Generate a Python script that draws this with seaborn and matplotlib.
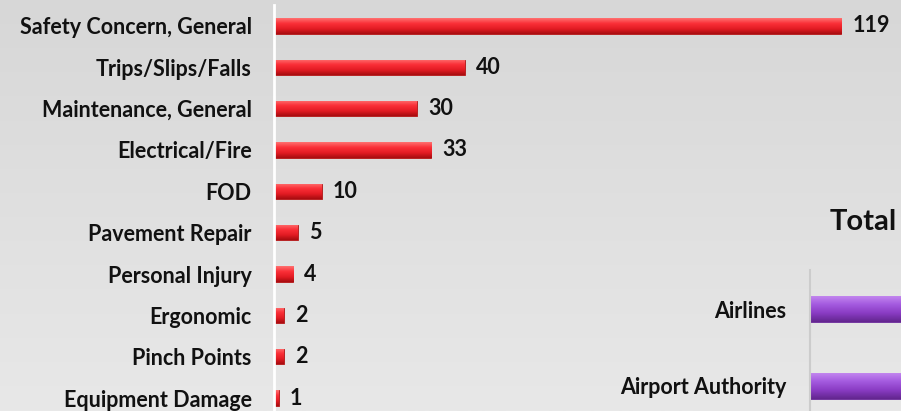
"""Hazard report categories, horizontal bars with a bevelled look."""

import matplotlib

matplotlib.use("Agg")
import matplotlib.pyplot as plt
import numpy as np
import pandas as pd
import seaborn as sns
from matplotlib.colors import LinearSegmentedColormap

categories = [
    "Safety Concern, General",
    "Trips/Slips/Falls",
    "Maintenance, General",
    "Electrical/Fire",
    "FOD",
    "Pavement Repair",
    "Personal Injury",
    "Ergonomic",
    "Pinch Points",
    "Equipment Damage",
]
counts = [119, 40, 30, 33, 10, 5, 4, 2, 2, 1]

# second chart, only partly visible in the crop
total_groups = ["Airlines", "Airport Authority"]
total_counts = [150, 140]

W, H = 901, 411


def px_box(left, top, right, bottom):
    return [left / W, 1 - bottom / H, (right - left) / W, (bottom - top) / H]


def shade_bars(ax, colors):
    cmap = LinearSegmentedColormap.from_list("bevel", colors)
    grad = np.linspace(0, 1, 64)[:, None]
    xlim, ylim = ax.get_xlim(), ax.get_ylim()
    for p in ax.patches:
        x0, y0 = p.get_x(), p.get_y()
        w, h = p.get_width(), p.get_height()
        if w <= 0:
            continue
        im = ax.imshow(grad, cmap=cmap, aspect="auto", origin="lower",
                       extent=(x0, x0 + w, y0, y0 + h), zorder=p.get_zorder() + 0.1)
        im.set_clip_path(p)
    ax.set_xlim(xlim)
    ax.set_ylim(ylim)


sns.set_theme(style="white")
plt.rcParams["font.family"] = ["Lato", "DejaVu Sans"]

fig = plt.figure(figsize=(W / 100, H / 100), dpi=100)

# grey gradient backdrop
bg = fig.add_axes([0, 0, 1, 1], zorder=0)
bg.imshow(np.linspace(0, 1, 256)[:, None], aspect="auto", extent=(0, 1, 0, 1),
          cmap=LinearSegmentedColormap.from_list("bg", ["#d7d7d7", "#e8e8e8"]))
bg.axis("off")

# main chart
ax = fig.add_axes(px_box(274, 5.3, 274 + 130 * 4.765, 418.7), zorder=1)
df = pd.DataFrame({"category": categories, "count": counts})
sns.barplot(data=df, x="count", y="category", orient="h", ax=ax, color="#e4202a",
            saturation=1, width=0.37, edgecolor="#b01515", linewidth=0.6)
ax.set_xlim(0, 130)
ax.set_ylim(9.5, -0.5)
shade_bars(ax, ["#ff7070", "#fa3038", "#e41c24", "#a80c10"])
ax.bar_label(ax.containers[0], padding=8, fontsize=15.5, fontweight="bold", color="#111111")
ax.set_facecolor("none")
for side in ["top", "right", "bottom"]:
    ax.spines[side].set_visible(False)
ax.spines["left"].set_color("white")
ax.spines["left"].set_linewidth(2)
ax.set_xticks([])
ax.set_xlabel("")
ax.set_ylabel("")
ax.tick_params(axis="y", length=0, pad=16)
for lab in ax.get_yticklabels():
    lab.set_fontsize(15.5)
    lab.set_fontweight("bold")
    lab.set_color("#111111")

# "Total" chart overlapping bottom right
ax2 = fig.add_axes(px_box(810, 270.5, 1100, 424.5), zorder=2)
df2 = pd.DataFrame({"group": total_groups, "count": total_counts})
sns.barplot(data=df2, x="count", y="group", orient="h", ax=ax2, color="#8a3cc4",
            saturation=1, width=0.34, edgecolor="#6a2a98", linewidth=0.6)
ax2.set_xlim(0, 160)
ax2.set_ylim(1.5, -0.5)
shade_bars(ax2, ["#c58af0", "#a55ce0", "#8a3cc4", "#63268f"])
ax2.set_facecolor("none")
for side in ["top", "right", "bottom"]:
    ax2.spines[side].set_visible(False)
ax2.spines["left"].set_color("#cccccc")
ax2.spines["left"].set_linewidth(1.5)
ax2.set_xticks([])
ax2.set_xlabel("")
ax2.set_ylabel("")
ax2.tick_params(axis="y", length=0, pad=17)
for lab in ax2.get_yticklabels():
    lab.set_fontsize(15.5)
    lab.set_fontweight("bold")
    lab.set_color("#111111")

fig.text(863 / W, 1 - 222 / H, "Total", ha="center", va="center",
         fontsize=21, fontweight="bold", color="#111111")

fig.savefig("out.png", dpi=100)
